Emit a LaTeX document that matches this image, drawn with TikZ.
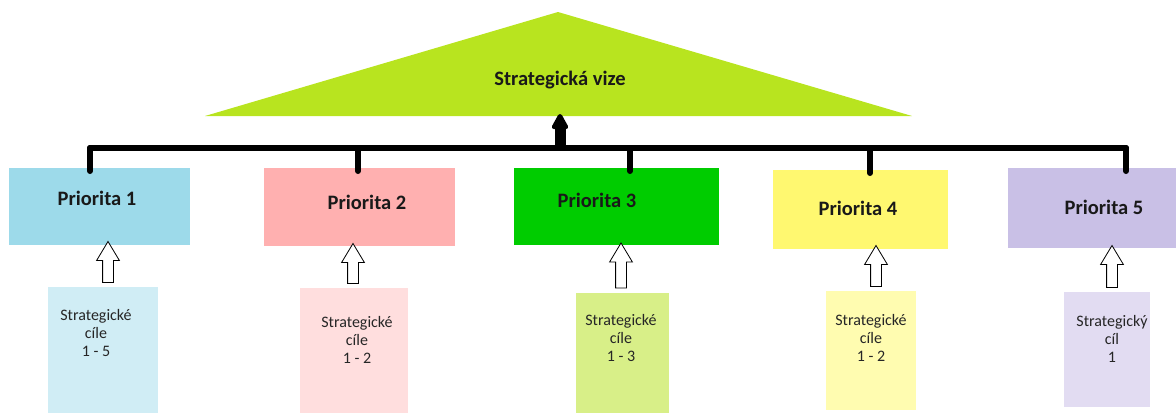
\documentclass[tikz,border=0pt]{standalone}
\usepackage{fontspec}
\setmainfont{Carlito}
\usetikzlibrary{arrows.meta,shapes.arrows}
\definecolor{vize}{RGB}{184,228,31}
\definecolor{prio1}{RGB}{157,218,234}
\definecolor{prio2}{RGB}{255,176,176}
\definecolor{prio3}{RGB}{0,204,0}
\definecolor{prio4}{RGB}{255,248,112}
\definecolor{prio5}{RGB}{201,192,230}
\definecolor{cil1}{RGB}{208,237,245}
\definecolor{cil2}{RGB}{255,222,222}
\definecolor{cil3}{RGB}{216,239,136}
\definecolor{cil4}{RGB}{255,252,176}
\definecolor{cil5}{RGB}{226,220,242}

\begin{document}
\begin{tikzpicture}[x=1pt,y=-1pt,
  box/.style={anchor=north west,inner sep=0pt,outer sep=0pt},
  title/.style={font=\fontsize{20.5}{22}\selectfont\bfseries,text=black!90},
  goal/.style={font=\fontsize{16}{18}\selectfont,align=center,text=black!85},
  bar/.style={line width=6pt,line cap=round},
  uparrow/.style={single arrow,draw,fill=white,line width=0.8pt,shape border rotate=90,
    minimum width=22pt,single arrow head extend=6pt,single arrow tip angle=62,inner sep=5pt}]
\useasboundingbox (0,0) rectangle (1176,413);
\fill[vize] (558,12) -- (912,116) -- (205,116) -- cycle;
\node[title] (vision) at (560,80) {Strategická vize};
\coordinate (vbase) at (560,114);
\node[box,fill=prio1,minimum width=181pt,minimum height=77pt] (p1) at (9,168) {};
\node[box,fill=prio2,minimum width=191pt,minimum height=78pt] (p2) at (264,168) {};
\node[box,fill=prio3,minimum width=205pt,minimum height=77pt] (p3) at (514,168) {};
\node[box,fill=prio4,minimum width=175pt,minimum height=79pt] (p4) at (773,170) {};
\node[box,fill=prio5,minimum width=168pt,minimum height=80pt] (p5) at (1008,168) {};
\node[title] (t1) at (97,198) {Priorita 1};
\node[title] (t2) at (367,202) {Priorita 2};
\node[title] (t3) at (597,200) {Priorita 3};
\node[title] (t4) at (858,208) {Priorita 4};
\node[title] (t5) at (1104,207) {Priorita 5};
\node[box,fill=cil1,minimum width=110pt,minimum height=126pt] (c1) at (48,287) {};
\node[box,fill=cil2,minimum width=108pt,minimum height=125pt] (c2) at (300,288) {};
\node[box,fill=cil3,minimum width=93pt,minimum height=120pt] (c3) at (576,293) {};
\node[box,fill=cil4,minimum width=90pt,minimum height=119pt] (c4) at (826,291) {};
\node[box,fill=cil5,minimum width=86pt,minimum height=115pt] (c5) at (1064,292) {};
\node[goal] (g1) at (96,333) {Strategické\\cíle\\1 - 5};
\node[goal] (g2) at (357,340) {Strategické\\cíle\\1 - 2};
\node[goal] (g3) at (621,338) {Strategické\\cíle\\1 - 3};
\node[goal] (g4) at (871,338) {Strategické\\cíle\\1 - 2};
\node[goal] (g5) at (1112,339) {Strategický\\cíl\\1};
\node[uparrow,minimum height=41pt] (a1) at (108,266.5) {};
\node[uparrow,minimum height=40pt] (a2) at (353,268) {};
\node[uparrow,minimum height=45pt] (a3) at (621,270) {};
\node[uparrow,minimum height=41pt] (a4) at (876,270.5) {};
\node[uparrow,minimum height=42pt] (a5) at (1112,271) {};
\coordinate (s1) at (90,148);
\coordinate (s2) at (358,148);
\coordinate (s3) at (630,148);
\coordinate (s4) at (870,148);
\coordinate (s5) at (1126,148);
\coordinate (vbar) at (560,148);
\draw[line width=11pt,-{Triangle[length=18pt,width=18pt,round]}] (vbar) -- (vbase);
\draw[bar] (s1) -- (s5);
\foreach \i in {1,...,5}
  \draw[bar] (s\i) -- ([yshift=-3pt]s\i |- p\i.north);
\end{tikzpicture}
\end{document}
